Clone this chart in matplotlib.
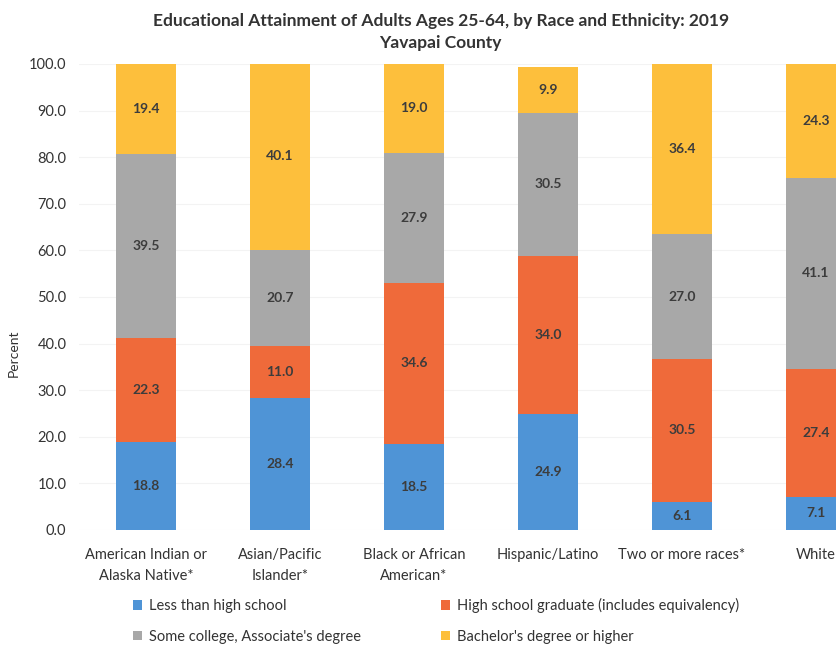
import numpy as np
import matplotlib.pyplot as plt
from matplotlib.patches import Patch

plt.rcParams['font.family'] = ['Lato', 'DejaVu Sans']

groups = ['American Indian or\nAlaska Native*', 'Asian/Pacific\nIslander*',
          'Black or African\nAmerican*', 'Hispanic/Latino',
          'Two or more races*', 'White']
less_than_hs = [18.8, 28.4, 18.5, 24.9, 6.1, 7.1]
hs_grad = [22.3, 11.0, 34.6, 34.0, 30.5, 27.4]
some_college = [39.5, 20.7, 27.9, 30.5, 27.0, 41.1]
bachelors = [19.4, 40.1, 19.0, 9.9, 36.4, 24.3]

series = [
    ('Less than high school', less_than_hs, '#4f94d6'),
    ('High school graduate (includes equivalency)', hs_grad, '#ef6a3a'),
    ("Some college, Associate's degree", some_college, '#a8a8a8'),
    ("Bachelor's degree or higher", bachelors, '#fdbf3c'),
]

fig = plt.figure(figsize=(8.36, 6.49), dpi=100)
ax = fig.add_axes([79 / 836, 0.1834, 1 - 79 / 836, 0.718])

x = np.arange(len(groups))
bottom = np.zeros(len(groups))
for name, vals, color in series:
    vals = np.array(vals)
    ax.bar(x, vals, 0.45, bottom=bottom, color=color, zorder=2)
    for xi, b, v in zip(x, bottom, vals):
        ax.text(xi, b + v / 2, f'{v:.1f}', ha='center', va='center',
                fontsize=10, fontweight='bold', color='#3c3c3c', zorder=3)
    bottom += vals

ax.set_xlim(-0.5, (836 - 79) / 134 - 0.5)
ax.set_ylim(0, 100)
ax.set_yticks(np.arange(0, 101, 10))
ax.set_yticklabels([f'{t:.1f}' for t in np.arange(0, 101, 10)])
ax.set_xticks(x)
ax.set_xticklabels(groups, fontsize=10.5, color='#333333', linespacing=1.6)
ax.tick_params(axis='both', length=0, labelsize=10.5, colors='#333333')
ax.tick_params(axis='y', pad=9)
ax.tick_params(axis='x', pad=13)
ax.grid(axis='y', color='#f3f3f3', linewidth=0.8, zorder=0)
for s in ax.spines.values():
    s.set_visible(False)

fig.text(0.016, 0.455, 'Percent', rotation=90, ha='center', va='center',
         fontsize=10, color='#333333')

fig.text(0.527, 0.967, 'Educational Attainment of Adults Ages 25-64, by Race and Ethnicity: 2019',
         ha='center', va='center', fontsize=12.5, fontweight='bold', color='#333333')
fig.text(0.527, 0.933, 'Yavapai County', ha='center', va='center',
         fontsize=12.5, fontweight='bold', color='#333333')

handles = [Patch(facecolor=c, label=n) for n, _, c in series]
order = [0, 2, 1, 3]
fig.legend([handles[i] for i in order], [series[i][0] for i in order],
           ncol=2, loc='center', bbox_to_anchor=(0.522, 0.043), frameon=False,
           fontsize=10.5, handlelength=0.6, handleheight=0.6, handletextpad=0.5,
           columnspacing=5.5, labelspacing=1.15, labelcolor='#333333')

fig.savefig('out.png', dpi=100)
